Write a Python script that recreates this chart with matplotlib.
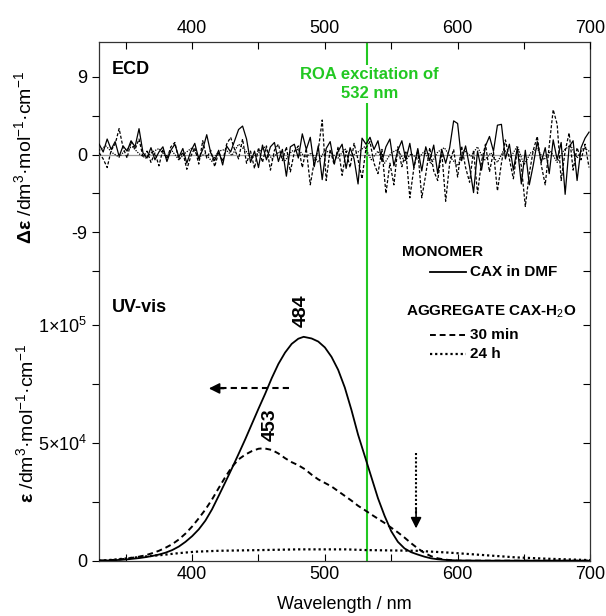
#!/usr/bin/env python3
"""ECD / UV-vis spectra of CAX monomer and aggregate, with ROA excitation line"""

import matplotlib
matplotlib.use('Agg')
import matplotlib.pyplot as plt
from matplotlib.ticker import MultipleLocator, FixedLocator
import numpy as np

plt.rcParams.update({
    'font.family': 'Liberation Sans',
    'font.size': 13,
    'mathtext.fontset': 'custom',
    'mathtext.rm': 'Liberation Sans',
    'mathtext.it': 'Liberation Sans:italic',
    'mathtext.bf': 'Liberation Sans:bold',
    'axes.unicode_minus': False,
})

# ---- UV-vis absorption (epsilon, dm3 mol-1 cm-1) ----
mono_wl = [330, 340, 350, 360, 365, 370, 375, 380, 385, 390, 395, 400, 405, 410,
           415, 420, 425, 430, 435, 440, 445, 450, 455, 460, 465, 470, 475, 480,
           484, 490, 495, 500, 505, 510, 515, 520, 525, 530, 535, 540, 545, 550,
           555, 560, 565, 570, 575, 580, 585, 590, 600, 620, 650, 680, 700]
mono_eps = [0, 150, 500, 1100, 1500, 2000, 2600, 3400, 4500, 6000, 8000, 10400,
            13300, 17000, 21800, 27500, 33300, 39200, 45300, 51500, 58000, 64500,
            70800, 77500, 83500, 88300, 92000, 94200, 95000, 94300, 93000, 90500,
            86500, 81000, 73500, 64000, 53500, 44500, 35500, 26500, 19000, 12500,
            8000, 5200, 3600, 2600, 1700, 1000, 600, 350, 100, 0, 0, 0, 0]

agg30_wl = [330, 340, 350, 360, 365, 370, 375, 380, 385, 390, 395, 400, 405, 410,
            415, 420, 425, 430, 435, 440, 445, 450, 454, 460, 465, 470, 475, 480,
            485, 490, 495, 500, 505, 510, 515, 520, 525, 530, 535, 540, 545, 550,
            555, 560, 565, 570, 575, 580, 585, 590, 595, 600, 620, 700]
agg30_eps = [0, 300, 800, 1700, 2300, 3200, 4200, 5500, 7000, 9000, 11500, 14500,
             18000, 21700, 26000, 30800, 35500, 39800, 43000, 45000, 46500, 47500,
             47700, 47000, 45500, 43500, 41800, 40500, 38800, 36500, 34500, 33000,
             31500, 29500, 27500, 25500, 23300, 21500, 19600, 17800, 16000, 14000,
             12000, 9800, 7400, 5200, 3300, 1900, 1000, 500, 200, 0, 0, 0]

agg24_wl = [330, 340, 351, 365, 377, 390, 402, 420, 452, 480, 516, 531, 569, 594,
            619, 644, 669, 697, 700]
agg24_eps = [0, 400, 1000, 1800, 2400, 3200, 3800, 4200, 4500, 4800, 4800, 4500,
             4200, 3400, 2400, 1400, 800, 300, 250]

# ---- ECD (delta epsilon) ----
ecd_wl = np.arange(330, 700, 3)
ecd_mono = [1.2, 0.3, 1.8, 0.6, 1.5, -0.2, 1.0, 0.4, 1.6, 0.9,
            3.0, 0.2, -0.4, 0.8, -0.6, 0.3, 0.9, -0.8, 0.5, 1.2,
            -0.3, 0.7, -1.0, 0.4, 1.3, -0.5, 0.6, 2.3, 0.2, -0.7,
            0.5, -1.2, 1.0, 0.3, 1.6, 2.9, 3.3, 1.8, -0.9, 0.4,
            -1.5, 1.1, -0.6, 0.9, 1.4, -0.8, 0.6, -2.5, 0.9, 1.2,
            -0.4, 2.4, 0.6, 2.0, -1.4, 1.0, -2.9, 0.7, 1.5, -1.0,
            0.4, 1.2, -1.6, 0.8, -0.5, -3.4, 1.9, 1.2, 2.0, 0.6,
            1.6, -0.8, 0.9, 1.8, -1.3, 0.5, 1.6, -0.6, 1.3, -1.5,
            0.7, -1.9, 0.9, -0.7, 1.1, -2.2, 0.6, -1.0, 0.8, 3.9,
            3.6, -0.7, 1.0, -1.4, -4.4, 0.4, -1.8, 1.0, 2.1, 0.4,
            3.4, 3.5, -0.5, 1.2, -1.8, 0.8, -3.4, 0.5, -3.5, -1.2,
            1.5, -0.9, 0.8, -2.2, 1.7, -0.6, 1.4, -4.6, 0.9, 1.6,
            -3.0, 0.8, 1.9, 2.6]
ecd_agg30 = [0.2, -0.5, -1.5, 0.5, 1.2, 3.0, 0.8, -0.4, 1.5, 0.6,
             1.8, -0.3, 0.4, -0.9, 0.2, -1.3, 0.6, -0.5, 0.9, 1.4,
             -0.6, 0.3, -1.7, -0.2, 0.8, -1.1, 1.6, -0.4, 0.5, -1.4,
             0.3, -0.8, 1.2, 2.0, 0.6, -0.5, 1.8, -1.0, 0.4, -1.6,
             0.8, -0.9, 1.0, -1.8, 0.5, 1.2, -0.7, 0.9, -2.0, 0.3,
             1.0, -1.5, 0.7, -3.5, -0.8, 0.5, 4.0, -3.0, 0.6, -1.2,
             0.9, -2.4, 0.4, -1.5, 1.3, -0.6, -2.8, 0.8, 1.5, -1.0,
             -2.2, 0.6, -4.5, -1.0, -3.5, 0.9, -1.4, 0.3, -5.0, -1.6,
             0.5, -5.0, -2.3, 0.8, -1.9, -3.0, 0.4, -5.4, -1.0, 0.6,
             -2.6, 1.0, -1.5, -3.2, 0.5, -4.5, -0.8, 1.2, -2.0, 0.3,
             -4.2, -1.0, 1.7, -0.5, -2.8, 0.6, -1.3, -6.0, -2.2, 0.5,
             2.1, -1.2, -3.5, 1.0, 5.2, 3.5, -3.0, 0.4, 2.5, -1.8,
             0.8, -0.6, 1.2, -1.5]
ecd_wl24 = np.arange(330, 701, 5)
ecd_agg24 = [0.5, 1.0, 0.2, -0.3, 0.6, 0.9, 0.1, -0.4, 0.3, 0.7,
             -0.2, 0.4, -0.6, 0.2, 0.8, -0.3, 0.1, -0.8, 0.4, 0.6,
             -0.1, 1.2, 0.5, -0.4, 0.2, 0.9, -0.5, 0.3, -0.7, 0.4,
             0.6, -0.3, 0.2, -0.9, 0.5, 0.1, -0.4, 0.7, -0.2, 0.3,
             0.9, -0.6, 0.4, -1.0, 0.2, 0.6, -0.8, 0.1, -0.5, 0.4,
             -1.1, 0.3, 0.8, -0.4, -1.3, 0.5, -0.2, 0.9, -0.7, 0.2,
             -0.9, 0.6, -0.3, 1.0, -1.2, 0.2, 0.7, -0.6, 0.4, -0.9,
             0.5, 1.1, -0.4, 0.8, 0.3]

ROA_WL = 532
GREEN = '#22c822'

fig = plt.figure(figsize=(6.06, 6.16), dpi=100)
rect = [0.1637, 0.0898, 0.8105, 0.8416]
ax = fig.add_axes(rect)                     # UV-vis
ax2 = fig.add_axes(rect, frameon=False)     # ECD
ax2.patch.set_alpha(0)

# UV-vis
ax.plot(mono_wl, mono_eps, color='black', lw=1.3, zorder=3)
ax.plot(agg30_wl, agg30_eps, color='black', lw=1.4, dashes=(3, 2), zorder=3)
ax.plot(agg24_wl, agg24_eps, color='black', lw=1.6, dashes=(1, 1.3), zorder=3)
ax.axvline(ROA_WL, color=GREEN, lw=1.5, zorder=2)

ax.set_xlim(330, 700)
ax.set_ylim(0, 2.2e5)
ax.xaxis.set_major_locator(MultipleLocator(100))
ax.xaxis.set_minor_locator(MultipleLocator(50))
ax.set_yticks([0, 5e4, 1e5])
ax.set_yticklabels(['0', r'5×10$^{4}$', r'1×10$^{5}$'])
ax.yaxis.set_minor_locator(FixedLocator([2.5e4, 7.5e4]))
ax.tick_params(axis='x', which='both', direction='in', top=False, length=5, width=0.8)
ax.tick_params(axis='y', which='both', direction='out', right=False, length=5, width=0.8)
ax.set_xlabel('Wavelength / nm', labelpad=10)
for s in ax.spines.values():
    s.set_linewidth(0.9)
    s.set_color('#333333')

# right-side inward ticks for UV scale
axr = ax.secondary_yaxis('right')
axr.set_yticks([0, 5e4, 1e5])
axr.yaxis.set_minor_locator(FixedLocator([2.5e4, 7.5e4]))
axr.tick_params(which='both', direction='in', length=5, width=0.8, labelright=False)
axr.spines['right'].set_visible(False)

# ECD
ax2.axhline(0, color='#999999', lw=0.9, zorder=1)
ax2.plot(ecd_wl24, ecd_agg24, color='black', lw=0.9, ls=(0, (1, 1)))
ax2.plot(ecd_wl, ecd_agg30, color='black', lw=0.9, ls=(0, (2.5, 1.5)))
ax2.plot(ecd_wl, ecd_mono, color='black', lw=0.9)
ax2.set_xlim(330, 700)
ax2.set_ylim(-47, 13)
ax2.set_yticks([-9, 0, 9])
ax2.yaxis.set_minor_locator(FixedLocator([-13.5, -4.5, 4.5]))
ax2.xaxis.set_major_locator(MultipleLocator(100))
ax2.xaxis.set_minor_locator(MultipleLocator(50))
ax2.xaxis.tick_top()
ax2.tick_params(axis='x', which='both', direction='in', length=5, width=0.8,
                bottom=False, labelbottom=False)
ax2.tick_params(axis='y', which='both', direction='out', length=5, width=0.8)
ax2r = ax2.secondary_yaxis('right')
ax2r.set_yticks([-9, 0, 9])
ax2r.yaxis.set_minor_locator(FixedLocator([-13.5, -4.5, 4.5]))
ax2r.tick_params(which='both', direction='in', length=5, width=0.8, labelright=False)
ax2r.spines['right'].set_visible(False)

# labels
fig.text(0.040, 1 - 157 / 616,
         r'$\mathbf{\Delta\epsilon}$ /dm$^{3}$·mol$^{-1}$·cm$^{-1}$',
         rotation=90, ha='center', va='center', fontsize=14)
fig.text(0.043, 1 - 423 / 616,
         r'$\mathbf{\epsilon}$ /dm$^{3}$·mol$^{-1}$·cm$^{-1}$',
         rotation=90, ha='center', va='center', fontsize=14)

ax.text(0.025, 0.947, 'ECD', transform=ax.transAxes, fontsize=13,
        fontweight='bold', va='center')
ax.text(0.025, 0.488, 'UV-vis', transform=ax.transAxes, fontsize=13,
        fontweight='bold', va='center')

ax2.text(ROA_WL + 1.5, 8.2, 'ROA excitation of\n532 nm', color=GREEN,
         fontsize=12, fontweight='bold', ha='center', va='center',
         linespacing=1.35,
         bbox=dict(facecolor='white', edgecolor='none', pad=1.5), zorder=5)

ax.text(482.5, 1.06e5, '484', rotation=90, fontsize=14, fontweight='bold',
        ha='center', va='center')
ax.text(458.5, 5.75e4, '453', rotation=90, fontsize=14, fontweight='bold',
        ha='center', va='center')

# shift arrows
ax.plot([472.7, 421], [7.31e4, 7.31e4], color='black', lw=1.5, dashes=(3, 2))
ax.annotate('', xy=(412.6, 7.31e4), xytext=(424, 7.31e4),
            arrowprops=dict(arrowstyle='-|>', color='black', lw=1.2,
                            mutation_scale=16, shrinkA=0, shrinkB=0))
ax.plot([568.7, 568.7], [4.55e4, 2.0e4], color='black', lw=1.5, dashes=(1, 1))
ax.annotate('', xy=(568.7, 1.37e4), xytext=(568.7, 2.2e4),
            arrowprops=dict(arrowstyle='-|>', color='black', lw=1.2,
                            mutation_scale=16, shrinkA=0, shrinkB=0))

# legend (hand-built)
fs_leg = 11
ax.text(0.617, 0.595, 'MONOMER', transform=ax.transAxes, fontsize=fs_leg,
        fontweight='bold', va='center')
ax.plot([0.673, 0.747], [0.557, 0.557], transform=ax.transAxes, color='black', lw=1.3)
ax.text(0.754, 0.557, 'CAX in DMF', transform=ax.transAxes, fontsize=fs_leg,
        fontweight='bold', va='center')
ax.text(0.624, 0.481, r'AGGREGATE CAX-H$_{2}$O', transform=ax.transAxes,
        fontsize=fs_leg, fontweight='bold', va='center')
ax.plot([0.673, 0.747], [0.436, 0.436], transform=ax.transAxes, color='black',
        lw=1.4, dashes=(3, 2))
ax.text(0.754, 0.436, '30 min', transform=ax.transAxes, fontsize=fs_leg,
        fontweight='bold', va='center')
ax.plot([0.673, 0.747], [0.398, 0.398], transform=ax.transAxes, color='black',
        lw=1.6, dashes=(1, 1.3))
ax.text(0.754, 0.398, '24 h', transform=ax.transAxes, fontsize=fs_leg,
        fontweight='bold', va='center')

fig.savefig('out.png', dpi=100)
